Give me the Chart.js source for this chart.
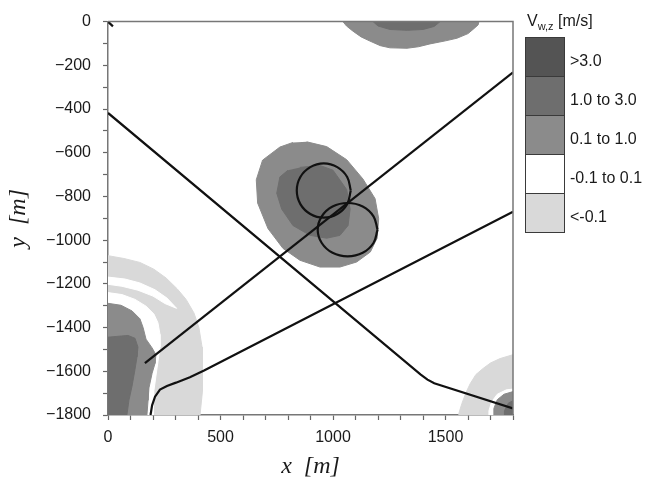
<!DOCTYPE html>
<html lang="en">
<head>
<meta charset="UTF-8">
<title>Vertical wind speed map</title>
<script src="https://cdn.jsdelivr.net/npm/chart.js@4.4.1/dist/chart.umd.min.js"></script>
<style>
    body { margin: 0; background: #fff; }
    .wrap {
        position: relative;
        width: 647px;
        height: 485px;
        font-family: 'Liberation Sans', Arial, sans-serif;
        color: #1a1a1a;
    }
    .legend { position: absolute; left: 525px; top: 0; width: 122px; height: 240px; }
    .legend-title { position: absolute; left: 2px; top: 13px; font-size: 16px; line-height: 16px; white-space: nowrap; }
    .legend-title sub { font-size: 11px; vertical-align: -4px; }
    .swatch { position: absolute; left: 0; width: 40px; height: 40px; box-sizing: border-box; border: 1px solid #3a3a3a; }
    .lab { position: absolute; left: 45px; font-size: 16px; line-height: 16px; white-space: nowrap; }
</style>
</head>
<body>
<div class="wrap">
    <canvas id="map" width="647" height="485"></canvas>
    <div class="legend" id="legend">
        <div class="legend-title">V<sub>w,z</sub> [m/s]</div>
    </div>
</div>

<script>
// axis ticks
const xTickLabels = [0, 500, 1000, 1500];
const yTickLabels = [0, -200, -400, -600, -800, -1000, -1200, -1400, -1600, -1800];

// colour classes
const legendLabels = ['>3.0', '1.0 to 3.0', '0.1 to 1.0', '-0.1 to 0.1', '<-0.1'];
const legendColors = ['#545454', '#6e6e6e', '#8b8b8b', '#ffffff', '#d9d9d9'];

// contour regions [x, y] in metres
const bottomLeftOuter = [[-58,-1071],[0,-1071],[71,-1084],[142,-1102],[204,-1133],[258,-1173],[307,-1222],[347,-1271],[382,-1333],[404,-1400],[418,-1489],[422,-1578],[418,-1689],[409,-1800],[409,-1844],[-58,-1844]];
const bottomLeftGap1 = [[-58,-1169],[0,-1169],[76,-1178],[142,-1196],[209,-1227],[262,-1265],[305,-1312],[253,-1290],[200,-1256],[133,-1229],[62,-1211],[0,-1202],[-58,-1202]];
const bottomLeftGap2 = [[-58,-1240],[0,-1240],[62,-1249],[120,-1271],[169,-1302],[204,-1338],[222,-1378],[231,-1431],[231,-1489],[222,-1556],[213,-1622],[204,-1689],[200,-1756],[200,-1844],[-58,-1844]];
const bottomLeftMid = [[-58,-1289],[0,-1289],[58,-1298],[107,-1324],[142,-1360],[156,-1400],[169,-1453],[196,-1493],[213,-1524],[209,-1564],[196,-1609],[182,-1676],[178,-1733],[173,-1800],[173,-1844],[-58,-1844]];
const bottomLeftCore = [[-58,-1444],[0,-1444],[44,-1440],[89,-1436],[120,-1449],[133,-1489],[129,-1533],[120,-1591],[107,-1667],[93,-1733],[84,-1800],[84,-1844],[-58,-1844]];

const topMid = [[1030,50],[1044,0],[1060,-20],[1089,-44],[1125,-70],[1164,-89],[1210,-110],[1253,-120],[1329,-122],[1380,-115],[1431,-102],[1500,-88],[1551,-76],[1600,-55],[1622,-36],[1645,-15],[1660,50]];
const topCore = [[1170,50],[1178,0],[1200,-20],[1253,-36],[1330,-40],[1400,-36],[1450,-22],[1476,0],[1480,50]];

const centreMid = [[883,-550],[972,-572],[1061,-632],[1133,-720],[1187,-810],[1203,-902],[1196,-991],[1166,-1054],[1105,-1100],[1031,-1123],[942,-1123],[853,-1092],[778,-1038],[711,-947],[665,-830],[659,-724],[687,-634],[764,-574],[822,-553]];
const centreCore = [[853,-667],[942,-658],[1000,-680],[1061,-769],[1076,-858],[1067,-933],[1031,-978],[972,-991],[898,-978],[822,-933],[772,-858],[750,-785],[764,-711],[800,-680]];

const bottomRightOuter = [[1556,-1850],[1560,-1790],[1573,-1747],[1590,-1700],[1609,-1658],[1635,-1615],[1667,-1587],[1700,-1562],[1742,-1542],[1800,-1524],[1850,-1524],[1850,-1850]];
const bottomRightGap = [[1690,-1850],[1693,-1780],[1705,-1740],[1730,-1705],[1770,-1685],[1850,-1675],[1850,-1850]];
const bottomRightMid = [[1712,-1850],[1715,-1770],[1730,-1730],[1760,-1705],[1800,-1693],[1850,-1690],[1850,-1850]];
const bottomRightCore = [[1760,-1850],[1762,-1780],[1780,-1745],[1800,-1735],[1850,-1730],[1850,-1850]];

// flight paths
const pathA = [[0,-418],[1390,-1615],[1420,-1638],[1450,-1655],[1800,-1770]];
const pathB = [[164,-1563],[1800,-232]];
const pathC = [[189,-1800],[196,-1756],[209,-1716],[231,-1684],[262,-1667],[302,-1652],[364,-1627],[427,-1596],[1800,-870]];
const loop1 = [[1079,-773],[1063,-711],[1019,-666],[959,-649],[899,-666],[855,-711],[839,-773],[855,-835],[899,-880],[959,-897],[1019,-880],[1063,-835],[1079,-773]];
const loop2 = [[1198,-952],[1180,-891],[1132,-846],[1065,-830],[998,-846],[950,-891],[932,-952],[950,-1013],[998,-1058],[1065,-1074],[1132,-1058],[1180,-1013],[1198,-952]];
const stub = [[0,0],[22,-22]];

const toXY = pts => pts.map(p => ({ x: p[0], y: p[1] }));

function region(pts, color, order) {
    return {
        data: toXY(pts),
        showLine: true,
        fill: 'shape',
        backgroundColor: color,
        borderColor: color,
        borderWidth: 1,
        pointRadius: 0,
        order: order
    };
}

function path(pts, tension) {
    return {
        data: toXY(pts),
        showLine: true,
        fill: false,
        borderColor: '#111',
        borderWidth: 2.2,
        pointRadius: 0,
        tension: tension || 0,
        order: 1
    };
}

const [cTop, cHigh, cMid, cZero, cNeg] = legendColors;

const datasets = [
    region(bottomRightOuter, cNeg, 30),
    region(bottomRightGap, cZero, 29),
    region(bottomRightMid, cMid, 28),
    region(bottomRightCore, cHigh, 27),
    region(bottomLeftOuter, cNeg, 20),
    region(bottomLeftGap1, cZero, 19),
    region(bottomLeftGap2, cZero, 18),
    region(bottomLeftMid, cMid, 17),
    region(bottomLeftCore, cHigh, 16),
    region(topMid, cMid, 12),
    region(topCore, cHigh, 11),
    region(centreMid, cMid, 10),
    region(centreCore, cHigh, 9),
    path(pathA), path(pathB), path(pathC),
    path(loop1, 0.4), path(loop2, 0.4), path(stub)
];

const tickFont = { family: "'Liberation Sans', Arial, sans-serif", size: 16 };
const titleFont = { family: "'Liberation Serif', 'Times New Roman', serif", size: 24, style: 'italic' };

const framePlugin = {
    id: 'frame',
    afterDatasetsDraw(chart) {
        const { ctx, chartArea: a } = chart;
        ctx.save();
        ctx.strokeStyle = '#777';
        ctx.lineWidth = 1.5;
        ctx.beginPath();
        ctx.moveTo(a.left, a.top);
        ctx.lineTo(a.right, a.top);
        ctx.lineTo(a.right, a.bottom);
        ctx.stroke();
        ctx.restore();
    }
};

new Chart(document.getElementById('map'), {
    type: 'scatter',
    data: { datasets: datasets },
    options: {
        responsive: false,
        animation: false,
        events: [],
        layout: { padding: { left: 0, top: 10, right: 134, bottom: 0 } },
        plugins: { legend: { display: false }, tooltip: { enabled: false } },
        scales: {
            x: {
                type: 'linear', min: 0, max: 1800,
                ticks: {
                    stepSize: 100, autoSkip: false, maxRotation: 0, padding: 8,
                    color: '#1a1a1a', font: tickFont,
                    callback: v => xTickLabels.includes(v) ? String(v) : ''
                },
                grid: { drawOnChartArea: false, drawTicks: true, tickLength: 5, color: '#666', tickWidth: 1.2 },
                border: { display: true, color: '#777', width: 1.5 },
                title: { display: true, text: 'x\u2002[m]', color: '#1a1a1a', font: titleFont, padding: { top: 0, bottom: 4 } },
                afterFit: s => { s.height = 70; }
            },
            y: {
                type: 'linear', min: -1800, max: 0,
                ticks: {
                    stepSize: 100, autoSkip: false, padding: 12,
                    color: '#1a1a1a', font: tickFont,
                    callback: v => yTickLabels.includes(v) ? (v < 0 ? '\u2212' + Math.abs(v) : String(v)) : ''
                },
                grid: { drawOnChartArea: false, drawTicks: true, tickLength: 5, color: '#666', tickWidth: 1.2 },
                border: { display: true, color: '#777', width: 1.5 },
                title: { display: true, text: 'y\u2002[m]', color: '#1a1a1a', font: titleFont, padding: { top: 4, bottom: 0 } },
                afterFit: s => { s.width = 108; }
            }
        }
    },
    plugins: [framePlugin]
});

// colour bar legend
const legendBox = document.getElementById('legend');
legendLabels.forEach((label, i) => {
    const top = 37 + i * 39;
    const sw = document.createElement('div');
    sw.className = 'swatch';
    sw.style.top = top + 'px';
    sw.style.background = legendColors[i];
    legendBox.appendChild(sw);
    const lab = document.createElement('div');
    lab.className = 'lab';
    lab.style.top = (top + 16) + 'px';
    lab.textContent = label;
    legendBox.appendChild(lab);
});
</script>
</body>
</html>
